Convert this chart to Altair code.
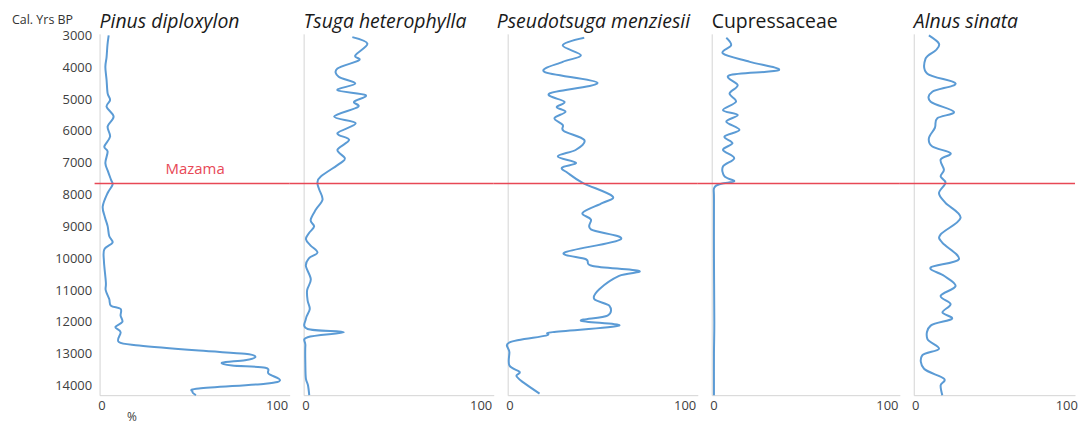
import altair as alt
import pandas as pd

# ---------------- data ----------------
taxa = ["Pinus diploxylon", "Tsuga heterophylla", "Pseudotsuga menziesii", "Cupressaceae", "Alnus sinata"]
italic = [True, True, True, False, True]

pinus_years = [3000, 3300, 3680, 3990, 4400, 4820, 5030, 5240, 5550, 5860, 6180, 6490, 6650, 7010, 7300, 7530,
               7690, 7950, 8370, 8700, 8990, 9300, 9510, 9720, 10100, 10760, 11000, 11280, 11490, 11590, 11800,
               12000, 12160, 12320, 12630, 12740, 12900, 13000, 13100, 13200, 13280, 13370, 13440, 13625, 13830,
               13940, 14090, 14190, 14300]
pinus_pct = [4.2, 3.5, 3, 2.3, 3, 3.6, 5, 3, 7, 3.6, 5, 1.7, 3.6, 2.3, 4, 5.5,
             6.4, 3.6, 0.8, 2, 3.6, 4.5, 6.4, 1.7, 1.5, 2.6, 2.5, 4.5, 5.5, 11, 11,
             12, 8, 11, 10, 21.6, 55.7, 82, 88, 82, 69, 74.6, 93.6, 95.5, 102,
             93.6, 55.7, 52, 54]

tsuga_years = [3053, 3260, 3625, 3780, 4040, 4300, 4510, 4720, 4875, 5085, 5250, 5550, 5760, 6070, 6280, 6590,
               6850, 7010, 7430, 7630, 7840, 8160, 8470, 8800, 9000, 9200, 9400, 9600, 9820, 10000, 10240,
               10660, 11000, 11330, 11600, 11900, 12220, 12320, 12480, 12740, 13370, 13780, 13990, 14300]
tsuga_pct = [26.8, 35.4, 28.5, 30.6, 18.3, 19, 28.5, 18.3, 34.4, 27.8, 30, 16.4, 28.7, 18.3, 25, 18.3,
             22.5, 20, 8.8, 6.9, 7.9, 9.8, 6, 3, 5, 2.2, 0.3, 3, 6.9, 2, 0.3,
             3.1, 1, 1.3, 2.5, 0.3, 1.3, 22, 1.3, 0, 0, 0.3, 1.5, 2.2]

pseudo_years = [3073, 3310, 3625, 3830, 4145, 4490, 4820, 5085, 5250, 5400, 5600, 5810, 6000, 6280, 6590, 6800,
                7000, 7150, 7320, 7630, 8050, 8260, 8570, 8780, 9090, 9400, 9820, 10030, 10240, 10400, 10550,
                10970, 11280, 11490, 11800, 11960, 12115, 12320, 12430, 12640, 12950, 13370, 13570, 13700,
                13890, 14250]
pseudo_pct = [42.7, 30.4, 40.8, 30.4, 20, 50.3, 22.9, 31.4, 27, 32, 25.7, 30.4, 31, 42.7, 38, 27.6,
              38, 30, 33.3, 41.8, 58.8, 53.2, 41.8, 46.5, 46.5, 63.6, 31.4, 43.7, 47.5, 74, 62.6,
              51.3, 48.4, 57, 56, 40.8, 62.6, 24.7, 20.9, 0.1, 0, 0, 5.8, 4,
              7.7, 17.2]

cupre_years = [3073, 3310, 3570, 3830, 4090, 4250, 4563, 4823, 5083, 5344, 5500, 5708, 5969, 6177, 6385, 6594,
               6854, 7115, 7430, 7580, 7660, 7780, 8160, 10000, 12000, 13000, 14300]
cupre_pct = [7.4, 10.2, 5.5, 21, 37.7, 9.3, 14, 9.3, 13, 5.5, 14, 7.4, 15, 6.4, 11, 5.5,
             12, 5.5, 6.4, 12, 4.5, 0.5, 0.3, 0.3, 0.5, 0.3, 0.3]

alnus_years = [3000, 3260, 3470, 3730, 4200, 4510, 4770, 5085, 5400, 5600, 5900, 6230, 6490, 6700, 6900, 7220,
               7430, 7630, 7950, 8260, 8730, 9250, 9510, 10030, 10290, 10550, 10870, 11180, 11440, 11700,
               11900, 12115, 12530, 12840, 13050, 13470, 13780, 13990, 14300]
alnus_pct = [9, 15.7, 13.5, 6.8, 8, 26.7, 11.3, 10.2, 25.6, 14.6, 13, 9, 11.3, 23.4, 16.8, 19,
             16.8, 20, 15.7, 20, 30, 16.8, 17.9, 28.9, 10.2, 19, 26.7, 16.8, 23.4, 18,
             24.3, 10.2, 8, 15.7, 4.6, 5.8, 19, 16.8, 17.9]

series = [(pinus_years, pinus_pct), (tsuga_years, tsuga_pct), (pseudo_years, pseudo_pct),
          (cupre_years, cupre_pct), (alnus_years, alnus_pct)]

year_ticks = list(range(3000, 14001, 1000))
pct_ticks = [0, 100]
mazama_year = [7650]
mazama_label = ["Mazama"]
y_label = ["Cal. Yrs BP"]

# ---------------- style ----------------
BLUE = "#5b9bd5"
RED = "#e84856"
FONT = "Open Sans"
GRID = "#d4d4d4"
widths = [191, 191, 191, 189, 162]
xmax = [107.5, 107.5, 107.5, 107.5, 105.8]
title_dx = [0, 0, -11, 0, 0]
rule_left = [-5, -14, -14, -14, -14]
HEIGHT = 363


def panel(i):
    years, pct = series[i]
    w = widths[i]
    first = i == 0
    df = pd.DataFrame({"year": years, "pct": pct, "idx": list(range(len(years)))})

    yaxis = dict(values=year_ticks, labels=first, ticks=False, tickSize=0, grid=False,
                 domainColor=GRID, labelFont=FONT, labelFontSize=13, labelColor="#404040",
                 labelPadding=8, format="d", title=None)
    yenc = alt.Y("year:Q", scale=alt.Scale(domain=[2950, 14300], reverse=True, nice=False, zero=False),
                 axis=alt.Axis(**yaxis))

    xaxis = dict(values=pct_ticks, ticks=False, tickSize=0, grid=False, domainColor=GRID,
                 labelFont=FONT, labelFontSize=13, labelColor="#404040", labelPadding=4,
                 labelFlush=False, format="d")
    if first:
        xaxis.update(title="%", titleX=32, titleY=25, titleBaseline="alphabetic", titleFont=FONT,
                     titleFontSize=12, titleFontWeight="normal", titleColor="#404040")
    else:
        xaxis.update(title=None)
    xenc = alt.X("pct:Q", scale=alt.Scale(domain=[-1, xmax[i]], nice=False, zero=False),
                 axis=alt.Axis(**xaxis))

    line = alt.Chart(df).mark_line(color=BLUE, strokeWidth=2, interpolate="cardinal").encode(
        x=xenc, y=yenc, order="idx:Q")

    mz = pd.DataFrame({"year": mazama_year, "label": mazama_label})
    rule = alt.Chart(mz).mark_rule(color=RED, strokeWidth=1.5).encode(
        y=yenc, x=alt.value(rule_left[i]), x2=alt.value(w))

    ttl = alt.Chart(pd.DataFrame({"name": [taxa[i]]})).mark_text(
        align="left", baseline="alphabetic", font=FONT, fontSize=19.5,
        fontStyle="italic" if italic[i] else "normal", color="#1a1a1a").encode(
        x=alt.value(title_dx[i]), y=alt.value(-6), text="name:N")

    layers = [line, rule, ttl]
    if first:
        mtext = alt.Chart(mz).mark_text(
            align="center", baseline="alphabetic", font=FONT, fontSize=15, color=RED, dy=-10).encode(
            x=alt.value(96), y=yenc, text="label:N")
        ylab = alt.Chart(pd.DataFrame({"t": y_label})).mark_text(
            align="left", baseline="alphabetic", font=FONT, fontSize=12.5, color="#333333").encode(
            x=alt.value(-88), y=alt.value(-9.5), text="t:N")
        layers += [mtext, ylab]
    return alt.layer(*layers).properties(width=w, height=HEIGHT)


chart = alt.hconcat(*[panel(i) for i in range(5)], spacing=14, bounds="flush").properties(
    padding={"left": 4, "top": 3, "right": 0, "bottom": 1}
).configure_view(stroke=None).configure_axis(grid=False)

chart.save("out.html", embed_options={"renderer": "svg", "actions": False})
